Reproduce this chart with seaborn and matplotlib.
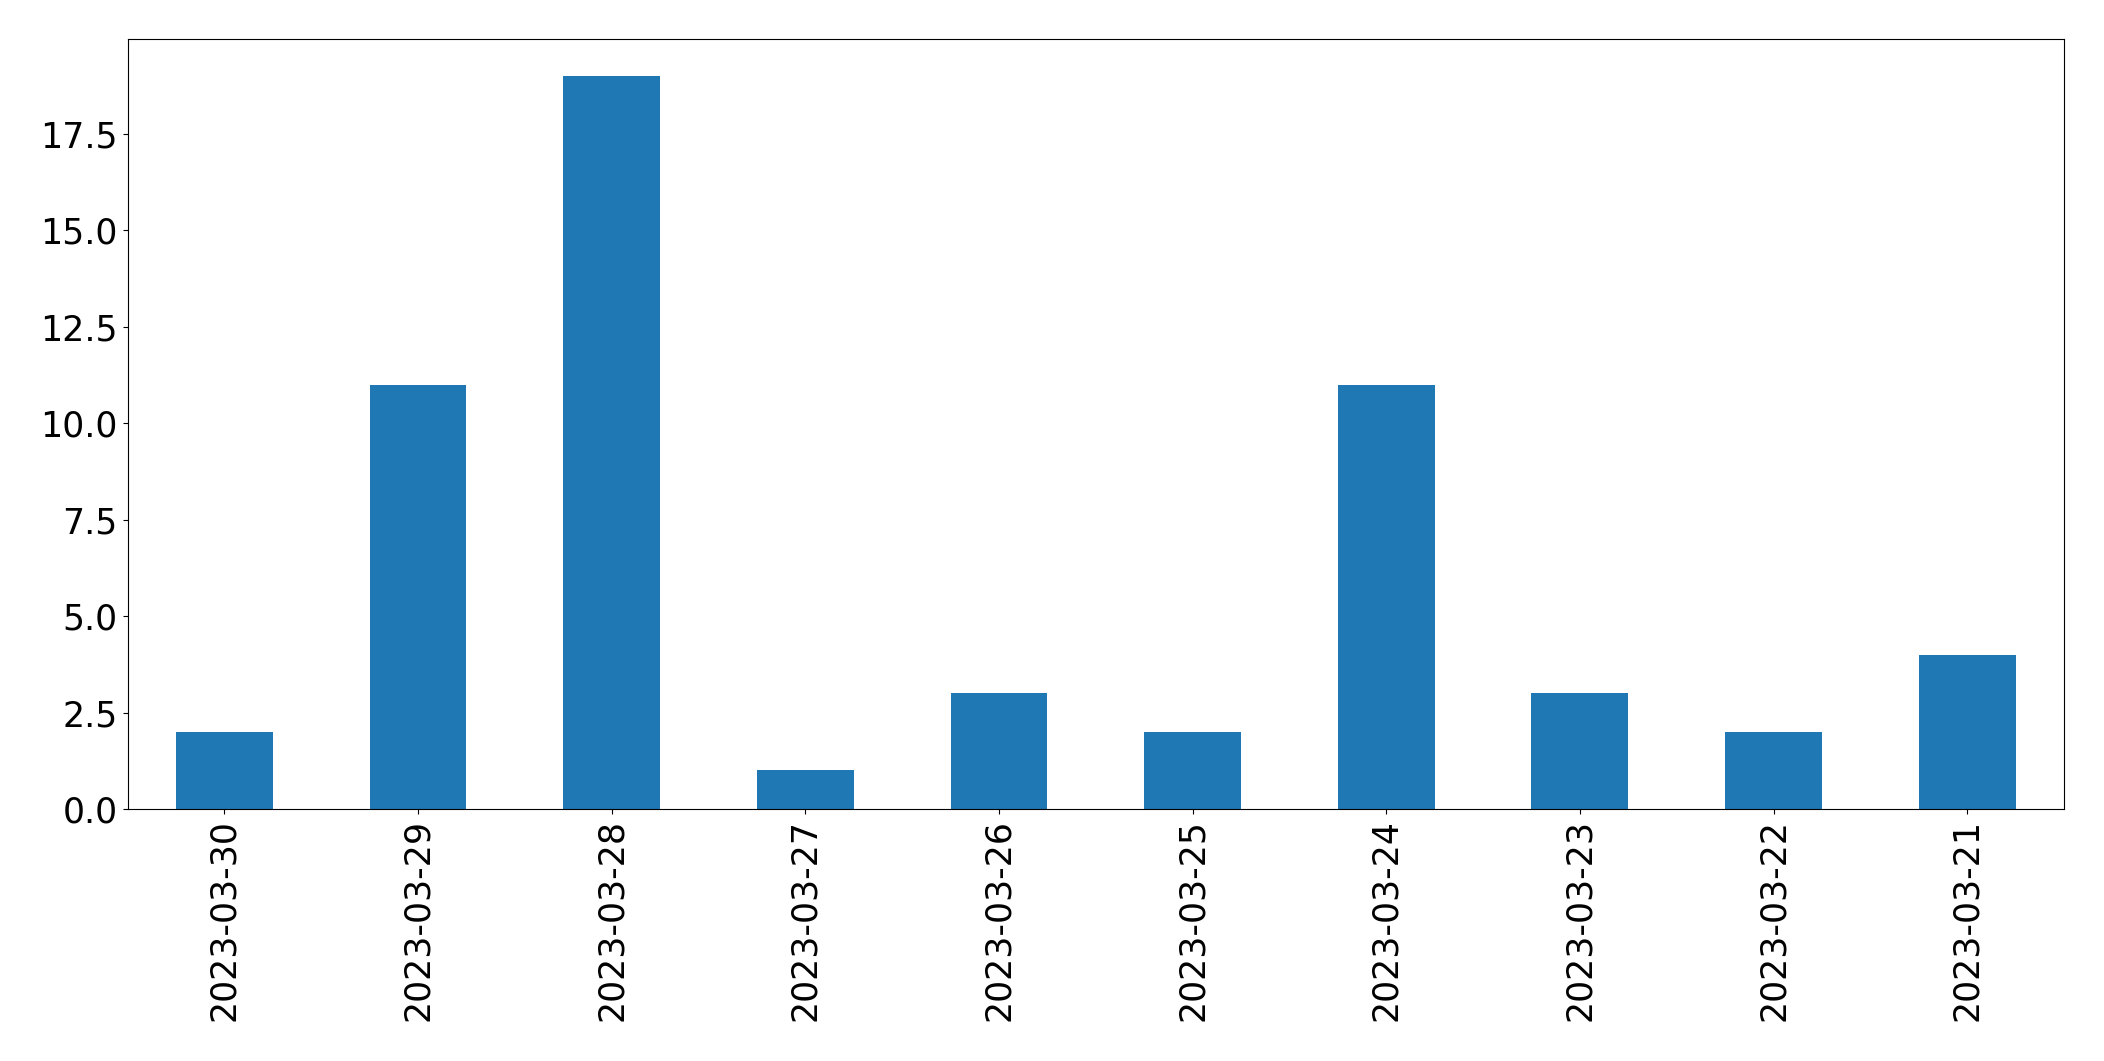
import pandas as pd
import seaborn as sns
import matplotlib
matplotlib.use('Agg')
import matplotlib.pyplot as plt

# daily counts, newest first
dates = ['2023-03-30', '2023-03-29', '2023-03-28', '2023-03-27', '2023-03-26',
         '2023-03-25', '2023-03-24', '2023-03-23', '2023-03-22', '2023-03-21']
counts = [2, 11, 19, 1, 3, 2, 11, 3, 2, 4]

df = pd.DataFrame({'date': dates, 'count': counts})

plt.rcParams['font.family'] = ['DejaVu Sans']
plt.rcParams['font.size'] = 25

fig, ax = plt.subplots(figsize=(21.04, 10.61), dpi=100)
fig.subplots_adjust(left=0.0606, right=0.981, top=0.963, bottom=0.2375)

sns.barplot(data=df, x='date', y='count', order=dates, color='#1f77b4',
            saturation=1, width=0.5, ax=ax)

ax.set_xlim(-0.5, len(dates) - 0.5)
ax.set_ylim(0, max(counts) * 1.05)
ax.set_xlabel('')
ax.set_ylabel('')
ax.tick_params(axis='x', labelrotation=90, labelsize=25)
ax.tick_params(axis='y', labelsize=25)

fig.savefig('out.png', dpi=100)
